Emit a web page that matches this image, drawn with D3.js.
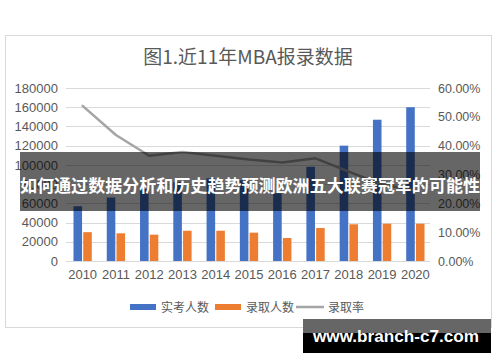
<!DOCTYPE html>
<html>
<head>
<meta charset="utf-8">
<script src="https://cdn.jsdelivr.net/npm/d3@7"></script>
<style>
  body { margin: 0; background: #fff; }
  text { font-family: "Liberation Sans", Arial, sans-serif; }
  .cjk { font-family: "Noto Sans CJK SC", sans-serif; }
</style>
</head>
<body>
<div id="chart"></div>
<script>
// data
var years = ["2010", "2011", "2012", "2013", "2014", "2015", "2016", "2017", "2018", "2019", "2020"];
var examinees = [57000, 66000, 75000, 82000, 86000, 84000, 70500, 98000, 120000, 147000, 160000];
var admitted = [30000, 28800, 27400, 31500, 31500, 29500, 23900, 34300, 38200, 38800, 38800];
var rate = [0.538, 0.437, 0.365, 0.378, 0.365, 0.352, 0.342, 0.356, 0.31, 0.265, 0.245];
var leftTicks = [0, 20000, 40000, 60000, 80000, 100000, 120000, 140000, 160000, 180000];
var rightTicks = [0, 0.1, 0.2, 0.3, 0.4, 0.5, 0.6];
var seriesNames = ["实考人数", "录取人数", "录取率"];
var colors = ["#4472c4", "#ed7d31", "#a5a5a5"];

var svgWidth = 500;
var svgHeight = 362;

var plot = { left: 66, right: 432, top: 88, bottom: 261 };

var svg = d3.select("#chart")
  .append("svg")
  .attr("width", svgWidth)
  .attr("height", svgHeight);

// chart frame
svg.append("rect")
  .attr("x", 5.5)
  .attr("y", 35.5)
  .attr("width", 486)
  .attr("height", 292)
  .attr("fill", "#fff")
  .attr("stroke", "#d9d9d9");

// title
svg.append("text")
  .attr("class", "cjk")
  .attr("x", 248)
  .attr("y", 64)
  .attr("text-anchor", "middle")
  .attr("font-size", "19px")
  .attr("fill", "#595959")
  .text("图1.近11年MBA报录数据");

// scales
var x0 = d3.scaleBand()
  .domain(years)
  .range([plot.left, plot.right])
  .paddingInner(0.45)
  .paddingOuter(0.225);

var x1 = d3.scaleBand()
  .domain([0, 1])
  .range([0, x0.bandwidth()])
  .paddingInner(0.12);

var yLeft = d3.scaleLinear()
  .domain([0, 180000])
  .range([plot.bottom, plot.top]);

var yRight = d3.scaleLinear()
  .domain([0, 0.6])
  .range([plot.bottom, plot.top]);

// gridlines
svg.append("g")
  .selectAll("line")
  .data(leftTicks)
  .enter()
  .append("line")
  .attr("x1", plot.left)
  .attr("x2", plot.right - 2)
  .attr("y1", d => Math.round(yLeft(d)) + 0.5)
  .attr("y2", d => Math.round(yLeft(d)) + 0.5)
  .attr("stroke", "#d9d9d9")
  .attr("stroke-width", 1);

// left axis labels
var leftAxis = d3.axisLeft(yLeft)
  .tickValues(leftTicks)
  .tickFormat(d3.format("d"))
  .tickSize(0)
  .tickPadding(0);

var leftG = svg.append("g")
  .attr("transform", `translate(58, 0)`)
  .call(leftAxis);
leftG.select(".domain").remove();
leftG.selectAll("text")
  .attr("font-family", "Liberation Sans, Arial, sans-serif")
  .attr("font-size", "13px")
  .attr("fill", "#595959");

// right axis labels
var rightAxis = d3.axisRight(yRight)
  .tickValues(rightTicks)
  .tickFormat(d3.format(".2%"))
  .tickSize(0)
  .tickPadding(0);

var rightG = svg.append("g")
  .attr("transform", `translate(438, 0)`)
  .call(rightAxis);
rightG.select(".domain").remove();
rightG.selectAll("text")
  .attr("font-family", "Liberation Sans, Arial, sans-serif")
  .attr("font-size", "12.5px")
  .attr("fill", "#595959");

// bottom axis labels
var bottomAxis = d3.axisBottom(x0)
  .tickSize(0)
  .tickPadding(0);

var bottomG = svg.append("g")
  .attr("transform", `translate(0, 270)`)
  .call(bottomAxis);
bottomG.select(".domain").remove();
bottomG.selectAll("text")
  .attr("font-family", "Liberation Sans, Arial, sans-serif")
  .attr("font-size", "13px")
  .attr("fill", "#595959");

// bars
var barData = years.map((y, i) => ({ year: y, vals: [examinees[i], admitted[i]] }));

var groups = svg.append("g")
  .selectAll("g")
  .data(barData)
  .enter()
  .append("g")
  .attr("transform", d => `translate(${x0(d.year)}, 0)`);

groups.selectAll("rect")
  .data(d => d.vals)
  .enter()
  .append("rect")
  .attr("x", (d, i) => x1(i))
  .attr("y", d => yLeft(d))
  .attr("width", x1.bandwidth())
  .attr("height", d => plot.bottom - yLeft(d))
  .attr("fill", (d, i) => colors[i]);

// rate line
var line = d3.line()
  .x((d, i) => x0(years[i]) + x0.bandwidth() / 2)
  .y(d => yRight(d));

svg.append("path")
  .datum(rate)
  .attr("d", line)
  .attr("fill", "none")
  .attr("stroke", colors[2])
  .attr("stroke-width", 2.5)
  .attr("stroke-linejoin", "round")
  .attr("stroke-linecap", "round");

// legend
var legend = svg.append("g").attr("class", "legend");
var legendX = [130, 215, 296];

seriesNames.forEach(function(name, i) {
  if (i < 2) {
    legend.append("rect")
      .attr("x", legendX[i])
      .attr("y", 304)
      .attr("width", 26)
      .attr("height", 6)
      .attr("fill", colors[i]);
  } else {
    legend.append("line")
      .attr("x1", legendX[i])
      .attr("x2", legendX[i] + 28)
      .attr("y1", 307)
      .attr("y2", 307)
      .attr("stroke", colors[i])
      .attr("stroke-width", 2.5);
  }
  legend.append("text")
    .attr("class", "cjk")
    .attr("x", legendX[i] + (i < 2 ? 31 : 32))
    .attr("y", 311.5)
    .attr("font-size", "12px")
    .attr("fill", "#595959")
    .text(name);
});

// dark overlay band with headline
svg.append("rect")
  .attr("x", 20)
  .attr("y", 152)
  .attr("width", 460)
  .attr("height", 59)
  .attr("fill", "#000")
  .attr("opacity", 0.6);

svg.append("text")
  .attr("class", "cjk")
  .attr("x", 20)
  .attr("y", 192)
  .attr("font-size", "17px")
  .attr("font-weight", "bold")
  .attr("fill", "#fff")
  .attr("textLength", 460)
  .attr("lengthAdjust", "spacingAndGlyphs")
  .text("如何通过数据分析和历史趋势预测欧洲五大联赛冠军的可能性");

// watermark
svg.append("rect")
  .attr("x", 303)
  .attr("y", 319)
  .attr("width", 188)
  .attr("height", 34)
  .attr("fill", "#000");

svg.append("rect")
  .attr("x", 303)
  .attr("y", 319)
  .attr("width", 188)
  .attr("height", 14)
  .attr("fill", "#666");

svg.append("text")
  .attr("x", 313)
  .attr("y", 342)
  .attr("font-family", "DejaVu Sans, sans-serif")
  .attr("font-size", "16px")
  .attr("font-weight", "bold")
  .attr("fill", "#fff")
  .attr("textLength", 166)
  .attr("lengthAdjust", "spacingAndGlyphs")
  .text("www.branch-c7.com");
</script>
</body>
</html>
